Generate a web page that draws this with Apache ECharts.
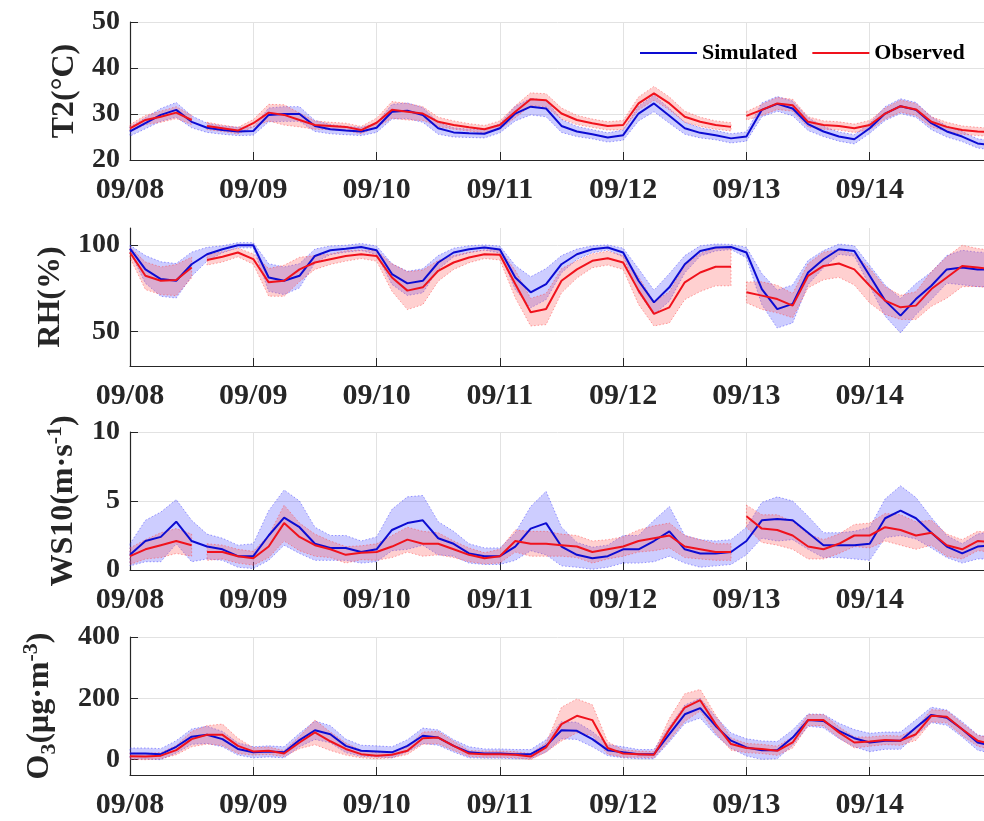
<!DOCTYPE html>
<html>
<head>
<meta charset="utf-8">
<script src="https://cdn.jsdelivr.net/npm/echarts@6/dist/echarts.min.js"></script>
<style>
html, body { margin: 0; padding: 0; background: #fff; }
#chartView { width: 984px; height: 821px; }
</style>
</head>
<body>
<div id="chartView"></div>
<script>
// hours since 09/08 00:00, 3-hourly
var hours = [0,3,6,9,12,15,18,21,24,27,30,33,36,39,42,45,48,51,54,57,60,63,66,69,72,75,78,81,84,87,90,93,96,99,102,105,108,111,114,117,120,123,126,129,132,135,138,141,144,147,150,153,156,159,162,165,168];
var dayLabels = ['09/08', '09/09', '09/10', '09/11', '09/12', '09/13', '09/14'];
// hours where the observations are missing
var obsGaps = [13.5, 118.5];

// T2 (°C)
var t2Sim = [26.2,28.0,29.8,30.9,28.3,27.0,26.5,26.2,26.3,29.8,30.0,30.0,27.4,26.7,26.4,26.2,27.0,30.5,30.7,29.8,26.9,26.0,25.8,25.7,26.9,30.1,31.6,31.2,27.4,26.2,25.6,24.9,25.4,30.1,32.3,29.6,26.9,25.9,25.4,24.7,25.1,30.9,32.2,31.2,27.8,26.2,25.1,24.5,26.9,30.1,31.7,30.9,28.0,26.2,25.1,23.6,23.2];
var t2SimSpread = [1.0,1.2,1.4,1.6,1.3,1.0,0.9,0.9,0.9,1.5,1.6,1.6,1.2,1.0,0.9,0.9,1.0,1.6,1.7,1.6,1.3,1.0,0.9,0.9,1.0,1.6,1.8,1.8,1.4,1.1,1.0,1.0,1.1,1.6,1.8,1.6,1.3,1.1,1.0,1.0,1.0,1.5,1.6,1.6,1.4,1.1,1.0,1.0,1.1,1.5,1.6,1.6,1.4,1.2,1.1,1.0,1.0];
var t2Obs = [26.9,28.7,29.4,30.3,28.7,27.4,26.9,26.4,28.0,30.3,29.8,28.7,27.6,27.4,27.2,26.5,28.1,30.9,30.5,30.1,28.3,27.6,27.1,26.7,27.6,30.5,33.2,33.0,30.1,28.7,28.0,27.4,27.6,32.3,34.5,32.3,29.4,28.3,27.6,27.2,29.6,30.9,32.3,31.9,28.3,27.6,27.4,26.9,27.6,30.1,31.7,31.0,28.3,27.2,26.5,26.2,26.0];
var t2ObsSpread = [0.8,1.0,1.2,1.3,1.0,0.8,0.7,0.7,0.8,1.8,2.2,1.5,0.9,0.8,0.8,0.8,1.0,1.8,1.8,1.5,1.0,0.9,0.8,0.8,0.9,1.3,1.4,1.4,1.2,1.0,0.9,0.9,1.0,1.4,1.5,1.4,1.2,1.0,0.9,0.9,0.9,1.2,1.3,1.3,1.1,0.9,0.9,0.9,1.0,1.2,1.3,1.3,1.1,1.0,0.9,0.9,0.9];

// RH (%)
var rhSim = [98,86,80.4,79.4,89,94.8,97.7,100,100,81.3,79.4,82.3,93.8,97.1,98,99,97.1,83.3,77.9,79.4,90,95.8,97.7,98.7,97.5,81.3,72.7,77.5,89,94.8,97.7,98.7,95.8,79.4,66.9,75.6,89,96.7,98.7,99,95.8,74.6,63,66,84.2,91.9,97.7,96.7,82.3,67.9,59.2,68.8,76.5,86,87.1,86,86];
var rhSimSpread = [2,8,10,10,7,4,2,1.5,1.5,8,8,7,4,2.5,2,2,2.5,6,7,7,4,2.5,2,1.5,2,7,9,9,5,3,2,1.5,2.5,7,7,8,5,3,2,1.5,3,9,11,11,7,5,3,3,6,9,10,9,8,8,10,10,10];
var rhObs = [95.8,82.3,79.4,79.8,87.1,91.5,93.3,95.8,92,78.5,79.4,86,90,91.9,93.8,94.8,93.8,81.3,73.7,75.6,85.2,90,92.9,94.8,94.5,77.5,61.2,63,79.4,86,91,92.5,90,73.7,60.2,64,78.5,84.2,87.5,87.5,72.7,70.8,68.8,65,82.3,88,89.4,86,76.5,67.9,64,65,74.6,81.3,88,87.1,86];
var rhObsSpread = [3,8,8,9,6,3,3,2.5,3,8,9,7,4,3,3,2.5,3,8,11,10,6,4,3,2.5,3,8,8,9,7,5,4,4,4,8,7,9,10,11,11,11,6,8,8,7,7,8,8,9,10,8,7,8,10,12,12,11,11];

// WS10 (m/s)
var wsSim = [1.1,2.1,2.4,3.5,2.1,1.7,1.5,1.0,1.0,2.5,3.8,3.1,1.9,1.6,1.6,1.3,1.5,2.9,3.4,3.6,2.3,1.9,1.2,1.0,1.0,1.7,3.0,3.4,1.7,1.1,0.85,1.0,1.5,1.5,2.1,2.8,1.5,1.2,1.2,1.3,2.1,3.6,3.7,3.6,2.7,1.8,1.8,1.8,1.9,3.75,4.3,3.75,2.7,1.7,1.2,1.7,1.8];
var wsSimSpread = [0.8,1.5,1.8,1.6,1.5,0.9,0.8,0.8,0.9,1.8,2.0,1.9,1.2,0.9,0.9,0.8,0.9,1.5,1.9,1.8,1.2,0.9,0.7,0.6,0.6,1.0,1.6,2.3,1.4,0.9,0.8,0.8,1.0,1.0,1.5,1.8,1.0,1.0,0.9,0.9,1.0,1.3,1.6,1.4,1.2,0.9,0.9,1.0,1.2,1.4,1.8,1.5,1.1,0.8,0.7,0.9,1.0];
var wsObs = [1.0,1.5,1.8,2.1,1.8,1.3,1.3,1.0,0.85,1.7,3.4,2.4,1.8,1.5,1.1,1.25,1.3,1.7,2.2,1.9,1.9,1.5,1.1,0.85,1.0,2.1,1.9,1.9,1.8,1.7,1.3,1.5,1.7,2.1,2.3,2.5,1.7,1.5,1.3,1.3,3.9,3.0,2.9,2.5,1.7,1.5,1.9,2.5,2.5,3.1,2.9,2.5,2.7,1.8,1.5,2.1,2.0];
var wsObsSpread = [0.6,0.7,0.9,0.9,0.8,0.6,0.5,0.5,0.5,0.8,1.3,1.0,0.8,0.6,0.6,0.5,0.6,0.8,0.9,0.9,0.8,0.6,0.5,0.4,0.5,0.8,0.9,0.9,0.8,0.8,0.8,0.7,0.7,0.8,0.9,0.9,0.8,0.7,0.6,0.6,0.8,1.0,1.1,1.0,0.9,0.7,0.7,0.8,0.9,1.0,1.1,1.0,0.9,0.8,0.7,0.7,0.7];

// O3 (ug/m3)
var o3Sim = [20,20,18,42,75,81,67,35,24,27,24,64,96,83,45,29,27,24,45,78,72,45,24,20,20,18,18,45,96,94,67,31,24,18,18,83,148,168,110,62,40,31,31,72,129,126,94,70,56,62,62,105,146,137,99,56,45];
var o3SimSpread = [18,18,18,20,25,28,25,20,18,18,18,22,30,28,22,18,18,18,20,25,25,20,18,15,15,15,15,20,28,28,25,18,18,15,15,25,30,32,30,25,28,30,28,25,20,22,25,28,30,28,28,25,25,25,25,25,25];
var o3Obs = [11,10,13,31,67,81,81,45,27,29,20,56,89,60,35,18,13,16,29,70,72,45,20,18,18,16,10,40,116,143,129,38,20,18,16,99,170,194,116,51,38,35,29,56,129,129,89,56,59,64,62,83,143,140,99,62,50];
var o3ObsSpread = [10,10,10,15,25,30,35,25,12,12,10,20,40,30,20,12,10,10,12,20,20,15,10,10,10,10,10,15,55,55,50,20,12,10,10,35,45,35,30,20,15,15,15,18,18,18,18,18,15,15,15,20,20,20,20,18,18];

var FONT = 'Liberation Serif';
var INK = '#262626';
var BLUE = '#0c0cd2';
var RED = '#f0121c';

function pairs(vals, gaps) {
	var out = [];
	for (var i = 0; i < hours.length; i++) {
		if (i > 0 && gaps) {
			gaps.forEach(function (g) {
				if (g > hours[i - 1] && g < hours[i]) out.push([g, null]);
			});
		}
		out.push([hours[i], vals[i]]);
	}
	return out;
}

// shaded range (mean +- spread) drawn as one polygon per unbroken stretch
function bandSeries(k, v, s, gaps, fill, edge) {
	var lo = pairs(v.map(function (x, i) { return x - s[i]; }), gaps);
	var hi = pairs(v.map(function (x, i) { return x + s[i]; }), gaps);
	return {
		type: 'custom', xAxisIndex: k, yAxisIndex: k, silent: true,
		data: hi.map(function (d, i) { return [d[0], lo[i][1], d[1]]; }),
		encode: { x: 0, y: [1, 2] },
		renderItem: function (params, api) {
			if (params.dataIndex !== 0) return null;
			var cs = params.coordSys;
			var rect = { x: cs.x, y: cs.y, width: cs.width, height: cs.height };
			var parts = [], cur = [];
			hi.forEach(function (d, i) {
				if (d[1] == null) { if (cur.length) parts.push(cur); cur = []; }
				else cur.push(i);
			});
			if (cur.length) parts.push(cur);
			var children = parts.map(function (idx) {
				var pts = [];
				idx.forEach(function (i) { pts.push(api.coord([hi[i][0], hi[i][1]])); });
				idx.slice().reverse().forEach(function (i) { pts.push(api.coord([lo[i][0], lo[i][1]])); });
				pts = echarts.graphic.clipPointsByRect(pts, rect);
				return {
					type: 'polygon', shape: { points: pts },
					style: { fill: fill, stroke: edge, lineWidth: 1, lineDash: [1.5, 2] }
				};
			});
			return { type: 'group', children: children };
		}
	};
}

var panels = [
	{ top: 22, name: 'T2(°C)', gap: 43, min: 20, max: 50, interval: 10,
		sim: t2Sim, simS: t2SimSpread, obs: t2Obs, obsS: t2ObsSpread, gaps: obsGaps },
	{ top: 228, name: 'RH(%)', gap: 60, min: 30, max: 110, custom: [50, 100],
		sim: rhSim, simS: rhSimSpread, obs: rhObs, obsS: rhObsSpread, gaps: obsGaps },
	{ top: 432, name: 'WS10(m·s{sup|-1})', gap: 46, min: 0, max: 10, interval: 5,
		sim: wsSim, simS: wsSimSpread, obs: wsObs, obsS: wsObsSpread, gaps: obsGaps },
	{ top: 637, name: 'O{sub|3}(μg·m{sup|-3})', gap: 70, min: -50, max: 400, custom: [0, 200, 400],
		sim: o3Sim, simS: o3SimSpread, obs: o3Obs, obsS: o3ObsSpread, gaps: [] }
];

var grids = [], xAxes = [], yAxes = [], series = [];
panels.forEach(function (p, k) {
	grids.push({ left: 130, top: p.top, width: 863, height: 138, outerBoundsMode: 'none', containLabel: false });
	xAxes.push({
		type: 'value', gridIndex: k, min: 0, max: 168, interval: 24,
		axisLine: { show: true, onZero: false, lineStyle: { color: INK, width: 1.2 } },
		axisTick: { show: true, inside: true, length: 8, lineStyle: { color: INK } },
		splitLine: { show: true, lineStyle: { color: '#e2e2e2', width: 1 } },
		axisLabel: {
			fontFamily: FONT, fontWeight: 'bold', fontSize: 30, color: INK, margin: 15,
			formatter: function (v) { return dayLabels[Math.round(v / 24)] || ''; }
		}
	});
	var y = {
		type: 'value', gridIndex: k, min: p.min, max: p.max,
		name: p.name, nameLocation: 'middle', nameGap: p.gap,
		nameTextStyle: {
			fontFamily: FONT, fontWeight: 'bold', fontSize: 32, color: INK,
			rich: {
				sup: { fontFamily: FONT, fontWeight: 'bold', fontSize: 22, color: INK, verticalAlign: 'top', padding: [0, 0, 18, 0] },
				sub: { fontFamily: FONT, fontWeight: 'bold', fontSize: 22, color: INK, verticalAlign: 'bottom', padding: [12, 0, 0, 0] }
			}
		},
		axisLine: { show: true, onZero: false, lineStyle: { color: INK, width: 1.2 } },
		axisTick: { show: true, inside: true, length: 8, lineStyle: { color: INK } },
		splitLine: { show: true, lineStyle: { color: '#e2e2e2', width: 1 } },
		axisLabel: { fontFamily: FONT, fontWeight: 'bold', fontSize: 28, color: INK, margin: 10 }
	};
	if (p.interval) y.interval = p.interval;
	if (p.custom) {
		y.axisLabel.customValues = p.custom;
		y.axisTick.customValues = p.custom;
	}
	yAxes.push(y);

	series.push(bandSeries(k, p.sim, p.simS, null, 'rgba(70,70,255,0.27)', 'rgba(60,60,255,0.5)'));
	series.push(bandSeries(k, p.obs, p.obsS, p.gaps, 'rgba(255,80,80,0.27)', 'rgba(255,70,70,0.5)'));
	series.push({
		name: 'Simulated', type: 'line', xAxisIndex: k, yAxisIndex: k,
		symbol: 'none', lineStyle: { color: BLUE, width: 2 }, itemStyle: { color: BLUE },
		data: pairs(p.sim, null)
	});
	series.push({
		name: 'Observed', type: 'line', xAxisIndex: k, yAxisIndex: k,
		symbol: 'none', connectNulls: false, lineStyle: { color: RED, width: 2 }, itemStyle: { color: RED },
		data: pairs(p.obs, p.gaps)
	});
});

var chartView = echarts.init(document.getElementById('chartView'));
chartView.setOption({
	animation: false,
	backgroundColor: '#fff',
	legend: {
		data: ['Simulated', 'Observed'],
		left: 635, top: 37,
		icon: 'rect', itemWidth: 57, itemHeight: 2, itemGap: 15,
		textStyle: { fontFamily: FONT, fontWeight: 'bold', fontSize: 22, color: '#000' }
	},
	grid: grids,
	xAxis: xAxes,
	yAxis: yAxes,
	series: series
});
</script>
</body>
</html>
